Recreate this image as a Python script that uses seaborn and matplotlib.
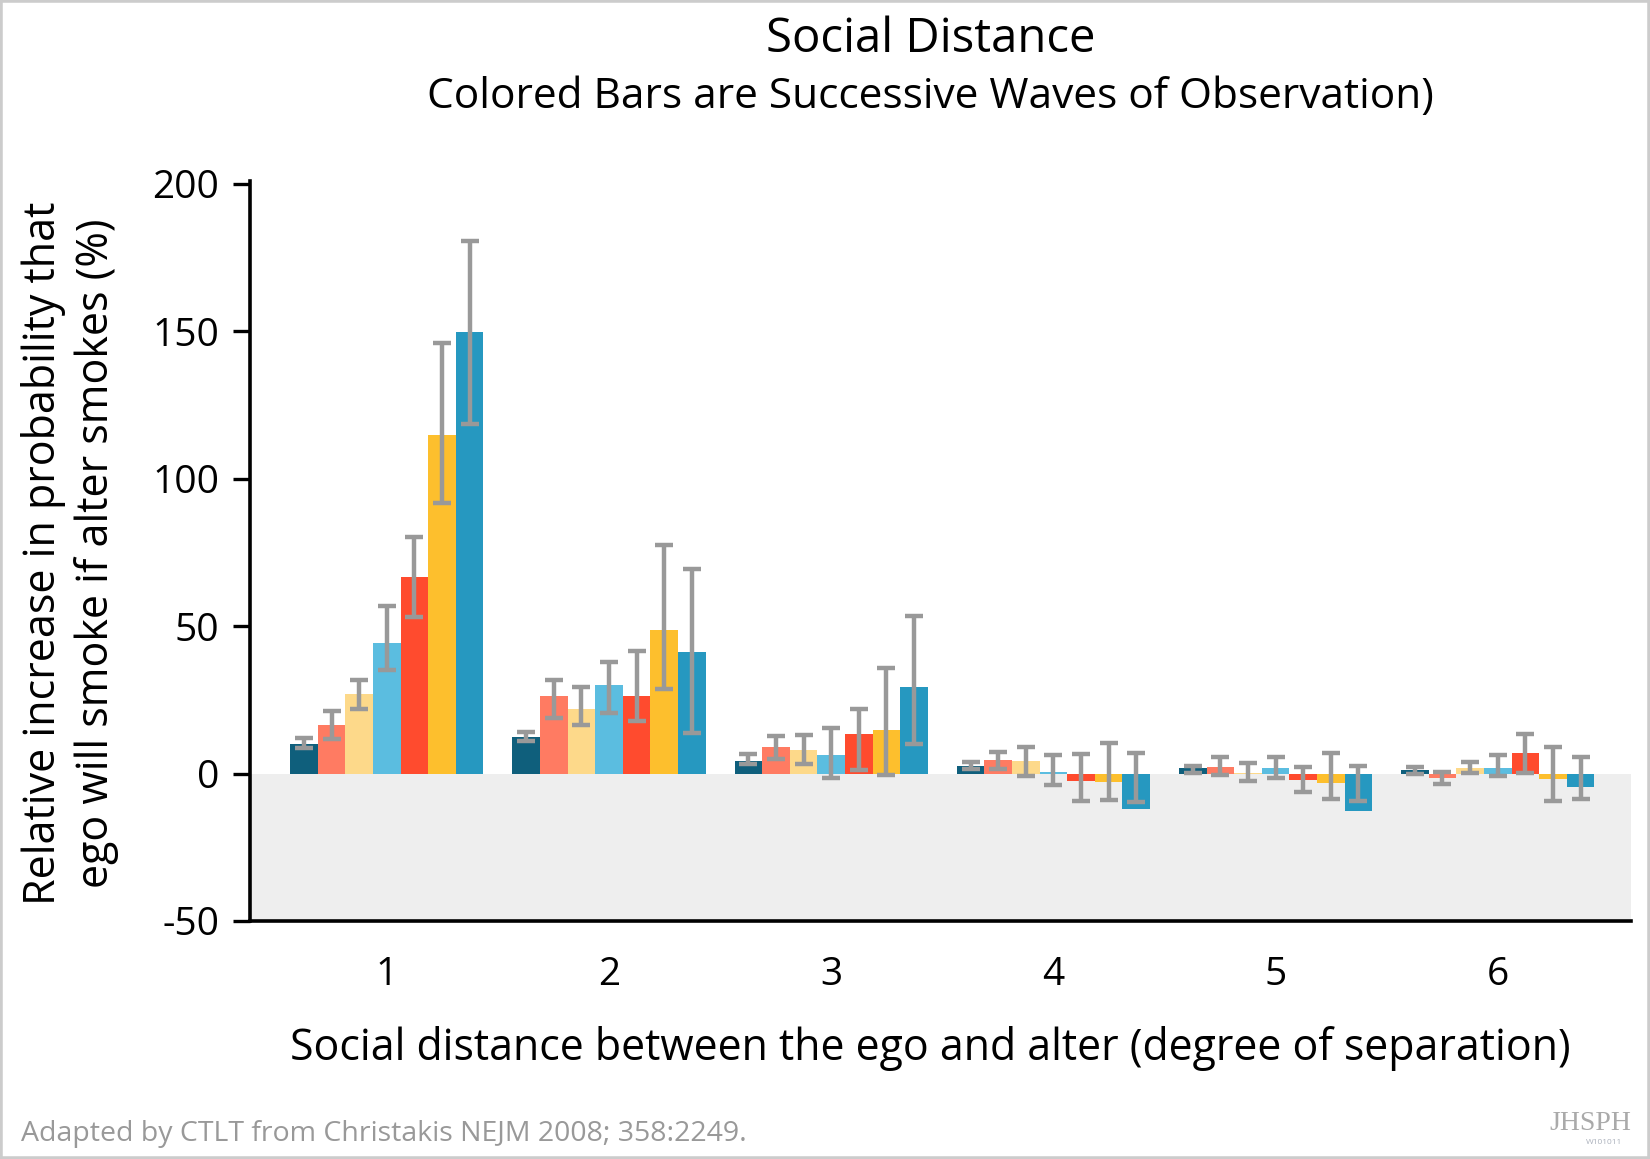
"""
Social distance chart: relative increase in probability that ego smokes,
by degree of separation, one bar per wave of observation.
"""

import matplotlib
matplotlib.use("Agg")
import matplotlib.pyplot as plt
import numpy as np
import pandas as pd
import seaborn as sns
from matplotlib.patches import Rectangle

# ------------------------------------------------------------
# data
# ------------------------------------------------------------
distances = ["1", "2", "3", "4", "5", "6"]
waves = ["W1", "W2", "W3", "W4", "W5", "W6", "W7"]

# bar heights, one list per wave (values for distance 1..6)
wave1 = [10, 12.3, 4.4, 2.5, 1.8, 1.2]
wave2 = [16.4, 26.3, 9.1, 4.6, 2.3, -1.6]
wave3 = [27, 21.9, 7.9, 4.2, 0.3, 2.0]
wave4 = [44.3, 30, 6.3, 0.5, 1.8, 2.0]
wave5 = [66.7, 26.4, 13.3, -2.4, -2.2, 7.1]
wave6 = [115, 48.6, 14.7, -2.8, -3.3, -2.0]
wave7 = [149.8, 41.3, 29.4, -12, -12.6, -4.5]

# lower / upper ends of the error bars
low1 = [8.8, 11.1, 3.3, 1.5, 0.3, 0.0]
high1 = [12, 14.1, 6.5, 3.9, 2.5, 2.1]
low2 = [11.8, 18.9, 5.1, 1.6, -0.5, -3.6]
high2 = [21.3, 31.6, 12.7, 7.4, 5.7, 0.6]
low3 = [21.9, 16.6, 3.3, -0.8, -2.5, 0.3]
high3 = [31.9, 29.3, 13.1, 8.9, 3.7, 4.0]
low4 = [35.2, 20.5, -1.6, -3.9, -1.6, -0.7]
high4 = [56.9, 37.7, 15.6, 6.3, 5.7, 6.2]
low5 = [53, 17.9, 1.1, -9.2, -6.2, 0.3]
high5 = [80.4, 41.7, 22, 6.8, 2.3, 13.4]
low6 = [91.7, 28.6, -0.6, -9, -8.8, -9.2]
high6 = [145.9, 77.6, 35.8, 10.5, 7.1, 8.9]
low7 = [118.6, 13.9, 9.9, -9.6, -9.2, -8.7]
high7 = [180.7, 69.3, 53.6, 7.1, 2.5, 5.7]

wave_colors = ["#0f5f7c", "#ff7b62", "#fdd98a", "#5bbde0",
               "#ff4b2e", "#fdbf2d", "#2698c0"]

values = [wave1, wave2, wave3, wave4, wave5, wave6, wave7]
lows = [low1, low2, low3, low4, low5, low6, low7]
highs = [high1, high2, high3, high4, high5, high6, high7]

rows = []
for wi, (w, vals, lo, hi) in enumerate(zip(waves, values, lows, highs)):
    for di, (d, v, a, b) in enumerate(zip(distances, vals, lo, hi)):
        rows.append({"distance": d, "wave": w, "pct": v, "lo": a, "hi": b,
                     "di": di, "wi": wi})
df = pd.DataFrame(rows)

# ------------------------------------------------------------
# plot
# ------------------------------------------------------------
sns.set_style("white")
plt.rcParams["font.family"] = ["Open Sans", "DejaVu Sans"]
plt.rcParams["text.color"] = "black"
plt.rcParams["xtick.color"] = "black"
plt.rcParams["ytick.color"] = "black"

fig = plt.figure(figsize=(16.5, 11.59), dpi=100)
ax = fig.add_axes([0.1515, 0.2054, 0.837, 0.6384])

sns.barplot(
    data=df, x="distance", y="pct", hue="wave",
    order=distances, hue_order=waves, palette=wave_colors,
    errorbar=None, width=0.87, saturation=1,
    legend=False, ax=ax, zorder=2,
)

# error bars at the centres of the bars seaborn drew:
# bars sorted left to right match the rows sorted by distance, then wave
bars = sorted(ax.patches, key=lambda p: p.get_x())
for p in bars:
    p.set_linewidth(0)
xc = np.array([p.get_x() + p.get_width() / 2 for p in bars])
ordered = df.sort_values(["di", "wi"])
lo = ordered["lo"].to_numpy()
hi = ordered["hi"].to_numpy()
ax.errorbar(xc, (lo + hi) / 2, yerr=(hi - lo) / 2, fmt="none",
            ecolor="#999999", elinewidth=3.2, capsize=6.8, capthick=3.2,
            zorder=3)

# grey band below zero
ax.axhspan(-50, 0, color="#eeeeee", zorder=0, lw=0)

ax.set_ylim(-50, 201)
ax.set_xlim(-0.616, 5.6)
ax.set_yticks([-50, 0, 50, 100, 150, 200])
ax.set_yticklabels(["-50", "0", "50", "100", "150", "200"])

for s in ["top", "right"]:
    ax.spines[s].set_visible(False)
for s in ["left", "bottom"]:
    ax.spines[s].set_linewidth(2.6)
    ax.spines[s].set_color("black")

ax.tick_params(axis="y", direction="out", length=12, width=2.4,
               labelsize=28, pad=10, left=True)
ax.tick_params(axis="x", length=0, labelsize=28, pad=25)

ax.set_xlabel("")
ax.set_ylabel("")

# titles and labels
fig.text(0.564, 0.966, "Social Distance", ha="center", va="center",
         fontsize=34)
fig.text(0.564, 0.9165, "Colored Bars are Successive Waves of Observation)",
         ha="center", va="center", fontsize=30.5)
fig.text(0.564, 0.095,
         "Social distance between the ego and alter (degree of separation)",
         ha="center", va="center", fontsize=30.9)
fig.text(0.0424, 0.523,
         "Relative increase in probability that\n"
         "ego will smoke if alter smokes (%)",
         ha="center", va="center", rotation=90, fontsize=31,
         linespacing=1.25)

fig.text(0.0127, 0.0214, "Adapted by CTLT from Christakis NEJM 2008; 358:2249.",
         ha="left", va="center", fontsize=20.5, color="#999999")
fig.text(0.964, 0.031, "JHSPH", ha="center", va="center", fontsize=20,
         color="#aaaaaa", family=["Liberation Serif", "DejaVu Serif"])
fig.text(0.972, 0.014, "W101011", ha="center", va="center", fontsize=6,
         color="#aab0bb")

# thin grey frame along the edges
fig.patches.append(Rectangle((0, 0), 1, 1, transform=fig.transFigure,
                             fill=False, edgecolor="#cccccc", linewidth=4))

fig.savefig("out.png", dpi=100)
